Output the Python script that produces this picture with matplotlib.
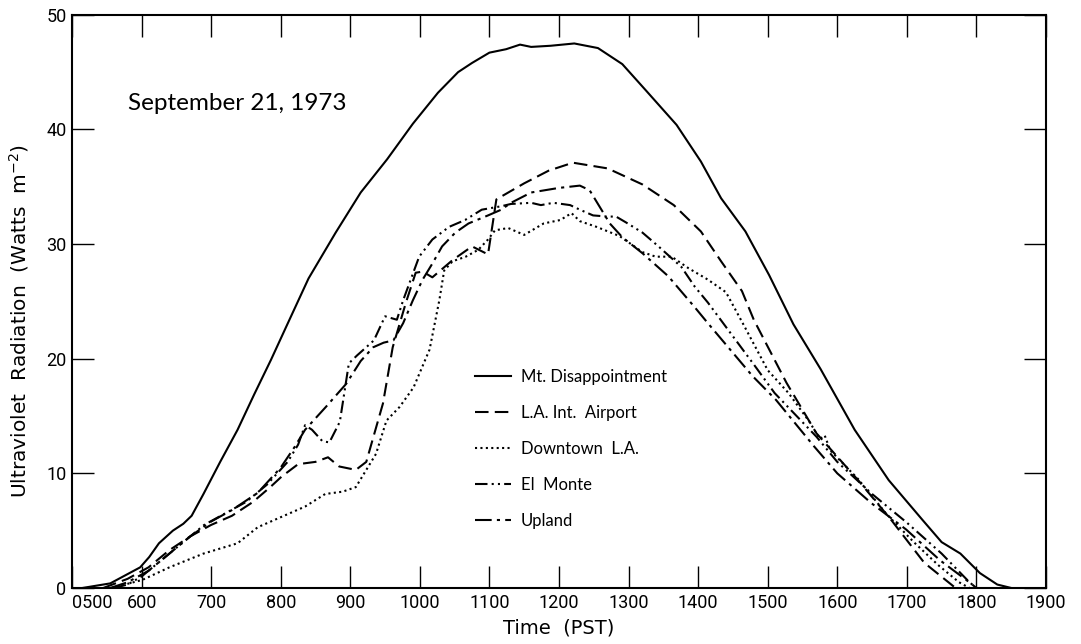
import matplotlib.pyplot as plt
from matplotlib.lines import Line2D

# time (0500 ... 1900, linear), radiation in W m^-2
mt_t = [515, 555, 598, 611, 625, 645, 660, 672, 689, 713, 738, 762, 786, 808, 840, 879, 915, 953,
        990, 1026, 1055, 1075, 1100, 1124, 1144, 1160, 1188, 1222, 1256, 1291, 1325, 1369, 1404,
        1433, 1468, 1502, 1537, 1576, 1625, 1674, 1723, 1750, 1777, 1805, 1830, 1850]
mt_v = [0, 0.4, 1.8, 2.7, 3.9, 5.0, 5.6, 6.3, 8.2, 11.0, 13.8, 16.9, 19.9, 22.8, 27.0, 31.0, 34.5, 37.4,
        40.5, 43.2, 45.0, 45.8, 46.7, 47.0, 47.4, 47.2, 47.3, 47.5, 47.1, 45.7, 43.4, 40.4, 37.2,
        34.0, 31.1, 27.3, 23.0, 19.1, 13.8, 9.4, 5.9, 4.0, 3.0, 1.3, 0.3, 0]

lax_t = [545, 580, 610, 640, 670, 700, 730, 760, 785, 801, 825, 850, 868, 884, 908, 923, 947, 961,
         980, 994, 1004, 1018, 1047, 1075, 1098, 1110, 1150, 1185, 1220, 1270, 1320, 1365, 1404,
         1433, 1463, 1480, 1527, 1570, 1630, 1678, 1725, 1770]
lax_v = [0, 0.8, 1.8, 3.3, 4.5, 5.5, 6.3, 7.5, 8.8, 9.7, 10.8, 11.0, 11.4, 10.6, 10.3, 11.0, 16.1, 21.0,
         24.9, 27.5, 27.6, 27.1, 28.6, 29.8, 29.1, 33.9, 35.3, 36.4, 37.1, 36.6, 35.2, 33.4, 31.1,
         28.5, 25.9, 23.4, 17.9, 13.5, 9.4, 5.9, 2.2, 0]

dt_t = [557, 601, 640, 689, 738, 767, 801, 835, 864, 889, 908, 923, 937, 952, 971, 991, 1014, 1028,
        1035, 1047, 1066, 1084, 1098, 1108, 1127, 1150, 1178, 1202, 1218, 1230, 1254, 1287, 1320,
        1339, 1362, 1386, 1414, 1440, 1465, 1500, 1530, 1560, 1575, 1582, 1590, 1630, 1670, 1710,
        1745, 1775, 1790]
dt_v = [0, 0.7, 1.8, 3.0, 3.9, 5.3, 6.2, 7.1, 8.2, 8.4, 8.8, 10.3, 11.7, 14.6, 15.8, 17.5, 20.8, 25.1,
        27.7, 28.5, 28.9, 29.5, 30.4, 31.2, 31.4, 30.8, 31.8, 32.1, 32.7, 32.0, 31.5, 30.7, 29.3,
        28.9, 28.9, 27.9, 26.9, 25.8, 23.0, 19.0, 17.0, 14.5, 13.0, 13.3, 12.0, 9.5, 6.5, 4.0,
        2.0, 0.5, 0]

em_t = [560, 580, 600, 630, 660, 690, 720, 750, 780, 810, 825, 835, 845, 860, 870, 885, 898, 910,
        934, 950, 967, 976, 999, 1018, 1042, 1065, 1089, 1117, 1131, 1160, 1174, 1192, 1216, 1230,
        1249, 1270, 1282, 1296, 1320, 1343, 1376, 1395, 1414, 1480, 1510, 1570, 1600, 1650, 1700,
        1750, 1790, 1800]
em_v = [0, 0.3, 1.0, 2.5, 4.0, 5.5, 6.5, 7.5, 9.0, 11.0, 12.5, 14.2, 13.8, 12.8, 12.7, 14.5, 19.6, 20.3,
        21.6, 23.7, 23.4, 25.1, 28.9, 30.4, 31.5, 32.1, 33.0, 33.3, 33.5, 33.6, 33.4, 33.6, 33.4, 33.0,
        32.5, 32.4, 32.4, 31.9, 31.0, 29.8, 28.0, 26.3, 24.9, 19.5, 17.0, 13.2, 11.0, 8.2, 5.7,
        3.0, 0.5, 0]

up_t = [555, 580, 610, 640, 670, 700, 730, 767, 800, 820, 835, 865, 894, 915, 933, 948, 962, 976,
        990, 1004, 1018, 1032, 1051, 1070, 1098, 1117, 1131, 1160, 1200, 1230, 1244, 1258, 1273,
        1291, 1320, 1357, 1395, 1414, 1478, 1512, 1566, 1600, 1649, 1699, 1748, 1792, 1800]
up_v = [0, 0.5, 1.5, 3.0, 4.5, 5.8, 6.8, 8.3, 10.5, 12.3, 13.8, 15.8, 17.8, 19.8, 21.0, 21.4, 21.6, 23.1,
        25.1, 26.9, 28.3, 29.8, 31.0, 31.8, 32.5, 33.0, 33.6, 34.5, 34.9, 35.1, 34.7, 33.3, 31.8,
        30.6, 29.2, 27.2, 24.5, 23.1, 18.5, 16.4, 12.4, 10.0, 7.4, 5.1, 2.4, 0.4, 0]

names = ['Mt. Disappointment', 'L.A. Int.  Airport', 'Downtown  L.A.', 'El  Monte', 'Upland']
xticks = list(range(500, 2000, 100))
xlabels = ['0500'] + [str(t) for t in xticks[1:]]

fig = plt.figure(figsize=(10.81, 6.44), dpi=100)
ax = fig.add_axes([0.0666, 0.087, 0.901, 0.89])

styles = ['-', (0, (6.5, 3)), (0, (1, 1.6)), (0, (6, 2, 1, 2, 1, 2)), (0, (8, 2.5, 1.5, 2.5))]
series = [(mt_t, mt_v), (lax_t, lax_v), (dt_t, dt_v), (em_t, em_v), (up_t, up_v)]
for (t, v), ls in zip(series, styles):
    ax.plot(t, v, color='black', lw=1.5, linestyle=ls)

tick_font = {'family': 'Roboto', 'fontsize': 13}
ax.set_xlim(500, 1900)
ax.set_ylim(0, 50)
ax.set_xticks(xticks)
ax.set_xticklabels(xlabels, **tick_font)
ax.set_yticks(range(0, 51, 10))
ax.set_yticklabels([str(y) for y in range(0, 51, 10)], **tick_font)
ax.get_xticklabels()[0].set_horizontalalignment('left')
ax.tick_params(direction='in', length=16, width=1, top=True, right=True, pad=4)
for s in ax.spines.values():
    s.set_linewidth(1.5)

ax.set_xlabel('Time  (PST)', family='DejaVu Sans', fontsize=14, labelpad=5)
ax.set_ylabel('Ultraviolet  Radiation  (Watts  m$^{-2}$)', family='DejaVu Sans', fontsize=14.5)
ax.yaxis.set_label_coords(-0.042, 0.465)
fig.text(0.118, 0.829, 'September 21, 1973', family='Lato', fontsize=17.5)

handles = [Line2D([0], [0], color='black', lw=1.5, linestyle=ls) for ls in styles]
fig.legend(handles, names, loc='upper left', bbox_to_anchor=(0.4315, 0.44), frameon=False,
           prop={'family': 'Lato', 'size': 12}, handlelength=2.2, handletextpad=0.55,
           labelspacing=1.2, borderpad=0)

fig.savefig('out.png', dpi=100)
